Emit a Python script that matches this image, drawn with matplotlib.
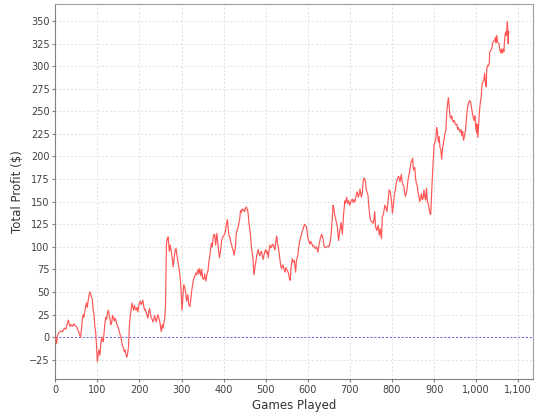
import matplotlib
matplotlib.use('Agg')
import matplotlib.pyplot as plt
from matplotlib.ticker import FuncFormatter

# Cumulative profit (game number, total profit in $)
games = [
    0, 2, 3, 5, 8, 11, 14, 17, 19, 22, 25, 28, 31, 33, 35, 38, 41, 44, 47, 50,
    53, 56, 58, 60, 62, 64, 66, 68, 70, 72, 74, 76, 78, 80, 82, 84, 86, 88, 90, 92,
    94, 96, 98, 100, 102, 104, 106, 108, 110, 112, 114, 116, 118, 120, 122, 124, 126, 128, 130, 132,
    134, 136, 138, 140, 142, 144, 146, 148, 150, 152, 154, 156, 158, 160, 162, 164, 166, 168, 170, 172,
    174, 175, 176, 178, 180, 182, 184, 186, 188, 190, 192, 194, 196, 198, 200, 202, 204, 206, 208, 210,
    212, 214, 216, 218, 220, 222, 224, 226, 228, 230, 232, 234, 236, 238, 240, 242, 244, 246, 248, 250,
    252, 254, 256, 258, 260, 262, 263, 264, 266, 268, 271, 273, 275, 278, 280, 283, 285, 287, 290, 292,
    294, 297, 299, 301, 303, 305, 307, 310, 312, 315, 317, 320, 322, 324, 327, 329, 331, 334, 336, 339,
    341, 343, 346, 348, 350, 353, 355, 358, 360, 363, 365, 367, 369, 371, 373, 375, 377, 379, 381, 384,
    387, 390, 393, 395, 397, 400, 403, 405, 407, 409, 411, 413, 415, 417, 419, 421, 423, 425, 428, 430,
    432, 434, 436, 438, 440, 442, 444, 446, 448, 450, 452, 454, 456, 458, 460, 462, 464, 466, 468, 470,
    472, 474, 476, 479, 482, 484, 486, 488, 490, 492, 494, 496, 498, 500, 502, 504, 506, 508, 510, 512,
    514, 516, 518, 520, 522, 524, 526, 528, 530, 532, 534, 536, 538, 540, 542, 544, 546, 548, 551, 554,
    556, 558, 560, 563, 565, 568, 571, 573, 576, 578, 581, 584, 587, 589, 592, 595, 597, 600, 603, 605,
    607, 610, 613, 615, 618, 621, 624, 627, 630, 633, 636, 639, 642, 645, 648, 650, 652, 655, 658, 660,
    662, 664, 667, 670, 673, 676, 679, 682, 685, 688, 690, 692, 695, 697, 700, 703, 706, 708, 710, 712,
    715, 717, 720, 722, 724, 727, 729, 731, 733, 735, 737, 739, 741, 743, 745, 747, 749, 751, 753, 755,
    757, 759, 761, 764, 767, 770, 772, 775, 777, 780, 783, 786, 788, 791, 793, 796, 799, 801, 803, 806,
    808, 810, 813, 816, 819, 822, 825, 828, 830, 832, 835, 838, 841, 843, 845, 847, 849, 851, 854, 856,
    858, 860, 862, 864, 866, 868, 870, 872, 874, 876, 878, 880, 882, 884, 886, 888, 890, 892, 894, 896,
    898, 900, 902, 904, 906, 908, 910, 912, 914, 916, 918, 920, 922, 924, 926, 928, 930, 932, 934, 936,
    938, 940, 942, 944, 946, 948, 950, 952, 954, 956, 958, 960, 962, 964, 966, 968, 970, 972, 975, 977,
    979, 981, 983, 985, 987, 989, 991, 993, 995, 997, 999, 1001, 1002, 1004, 1006, 1008, 1010, 1012, 1014, 1016,
    1018, 1020, 1022, 1024, 1025, 1027, 1029, 1031, 1032, 1035, 1037, 1039, 1041, 1044, 1046, 1047, 1049, 1051, 1054, 1056,
    1058, 1060, 1062, 1064, 1066, 1067, 1069, 1071, 1072, 1074, 1075, 1076, 1077, 1078,
]
profit = [
    0, -2, -7, 2, 5, 6, 7, 6, 8, 10, 9, 14, 19, 15, 12, 14, 12, 15, 13, 12,
    9, 5, 2, 0, 8, 18, 25, 22, 28, 34, 38, 33, 40, 46, 50, 48, 44, 42, 30, 25,
    12, 5, -10, -27, -18, -14, -20, -8, 0, -3, -5, 6, 16, 22, 20, 27, 30, 24, 20, 14,
    16, 24, 22, 18, 21, 19, 15, 12, 10, 6, 3, 0, -6, -10, -12, -16, -14, -20, -22, -18,
    -10, 0, 12, 23, 30, 38, 34, 30, 35, 32, 30, 33, 28, 34, 38, 40, 36, 38, 41, 35,
    30, 31, 27, 25, 21, 28, 32, 26, 22, 20, 17, 19, 24, 20, 17, 22, 25, 21, 18, 12,
    6, 14, 10, 16, 21, 36, 69, 102, 109, 111, 95, 102, 97, 87, 78, 90, 97, 98, 87, 82,
    76, 65, 51, 30, 43, 58, 56, 49, 40, 47, 36, 34, 43, 51, 60, 65, 67, 71, 69, 75,
    70, 76, 68, 75, 65, 64, 70, 62, 69, 74, 84, 90, 97, 104, 100, 110, 114, 113, 102, 115,
    100, 88, 97, 106, 110, 112, 115, 120, 126, 130, 119, 112, 110, 105, 102, 98, 95, 91, 100, 115,
    118, 121, 126, 130, 140, 138, 142, 140, 141, 139, 143, 144, 142, 138, 127, 120, 112, 100, 93, 85,
    69, 76, 82, 91, 97, 93, 90, 94, 95, 90, 86, 91, 95, 97, 93, 95, 88, 96, 102, 99,
    100, 103, 102, 99, 97, 106, 112, 104, 100, 92, 85, 78, 76, 80, 79, 74, 72, 77, 74, 71,
    66, 63, 76, 87, 83, 85, 72, 85, 90, 98, 107, 112, 118, 120, 125, 123, 122, 110, 106, 103,
    106, 103, 100, 101, 98, 100, 94, 103, 110, 114, 109, 100, 99, 100, 101, 100, 103, 112, 131, 146,
    142, 135, 129, 123, 107, 118, 127, 114, 136, 151, 148, 155, 148, 151, 146, 151, 153, 149, 152, 150,
    157, 161, 155, 158, 164, 155, 158, 170, 176, 176, 172, 163, 160, 157, 145, 135, 130, 128, 128, 126,
    130, 139, 122, 118, 124, 113, 120, 109, 133, 137, 146, 143, 139, 152, 163, 161, 150, 137, 145, 159,
    163, 170, 176, 178, 172, 180, 170, 167, 160, 156, 161, 174, 181, 187, 193, 195, 198, 185, 188, 176,
    170, 168, 160, 156, 150, 154, 159, 152, 154, 163, 155, 152, 165, 150, 148, 143, 137, 136, 158, 178,
    195, 212, 216, 219, 232, 227, 216, 222, 210, 208, 197, 208, 214, 220, 226, 229, 247, 258, 265, 254,
    244, 242, 245, 240, 238, 240, 236, 235, 236, 230, 232, 229, 227, 230, 223, 228, 218, 222, 230, 243,
    252, 258, 260, 262, 260, 254, 248, 243, 240, 245, 232, 226, 236, 221, 236, 251, 260, 266, 280, 282,
    284, 292, 282, 277, 296, 301, 300, 303, 315, 318, 319, 325, 327, 329, 332, 326, 334, 326, 325, 318,
    315, 319, 314, 319, 316, 325, 336, 338, 334, 349, 343, 325, 336, 338,
]

x_ticks = list(range(0, 1101, 100))
y_ticks = list(range(-25, 351, 25))

fig = plt.figure(figsize=(5.4, 4.2), dpi=100)
ax = fig.add_axes([0.1024, 0.097, 0.8846, 0.893])

ax.set_xticks(x_ticks)
ax.set_yticks(y_ticks)
ax.grid(True, color='#dedede', linestyle=(0, (2, 2)), linewidth=0.7)
ax.set_axisbelow(True)

# zero marker
ax.axhline(0, color='#6060f0', linestyle=(0, (2, 2)), linewidth=0.7, zorder=2)

ax.plot(games, profit, color='#ff5555', linewidth=0.85, zorder=3)

ax.set_xlim(0, 1135)
ax.set_ylim(-46.5, 368.5)
ax.xaxis.set_major_formatter(FuncFormatter(lambda v, p: f'{int(v):,}'))

for s in ax.spines.values():
    s.set_color('#a0a0a0')
    s.set_linewidth(0.8)
ax.spines['left'].set_color('#808080')
ax.spines['bottom'].set_color('#808080')

ax.tick_params(axis='both', length=2, width=0.8, color='#808080',
               labelsize=7, labelcolor='#404040', pad=2)

ax.set_xlabel('Games Played', fontsize=8.5, color='#333333', labelpad=3)
ax.set_ylabel('Total Profit ($)', fontsize=8.5, color='#333333', labelpad=4)

fig.savefig('out.png', dpi=100, facecolor='white')
